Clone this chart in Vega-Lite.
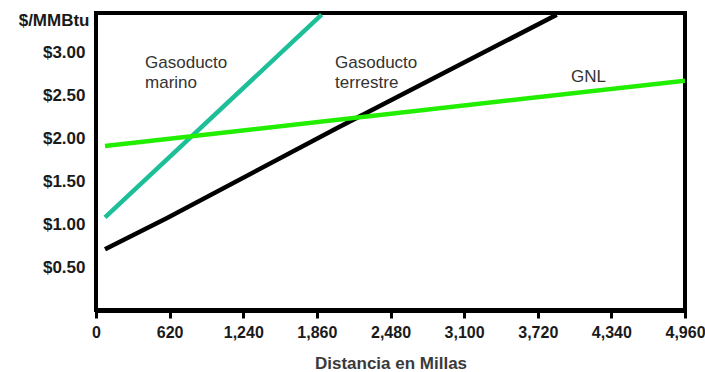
{
  "$schema": "https://vega.github.io/schema/vega-lite/v6.json",
  "width": 589,
  "height": 297,
  "autosize": "none",
  "padding": {"left": 96, "top": 13, "right": 20, "bottom": 62},
  "background": "white",
  "config": {
    "view": {"stroke": "black", "strokeWidth": 4},
    "font": "Liberation Sans"
  },
  "encoding": {
    "x": {
      "field": "millas",
      "type": "quantitative",
      "scale": {"domain": [0, 4960], "nice": false, "zero": false},
      "axis": {
        "values": [0, 620, 1240, 1860, 2480, 3100, 3720, 4340, 4960],
        "format": ",d",
        "grid": false,
        "domain": true,
        "domainColor": "black",
        "domainWidth": 5,
        "ticks": true,
        "tickSize": 8,
        "tickWidth": 3,
        "tickColor": "black",
        "labelFont": "Liberation Sans",
        "labelFontSize": 16,
        "labelFontWeight": "bold",
        "labelColor": "#1a1a1a",
        "labelPadding": 6,
        "labelFlush": false,
        "labelOverlap": false,
        "title": "Distancia en Millas",
        "titleFont": "Liberation Sans",
        "titleFontSize": 17,
        "titleFontWeight": "bold",
        "titleColor": "#3a3a3a",
        "titleBaseline": "alphabetic",
        "titleY": 58
      }
    },
    "y": {
      "field": "precio",
      "type": "quantitative",
      "scale": {"domain": [0, 3.46], "nice": false, "zero": false},
      "axis": {
        "values": [0.5, 1, 1.5, 2, 2.5, 3],
        "format": "$.2f",
        "grid": false,
        "domain": false,
        "ticks": false,
        "labelFont": "Liberation Sans",
        "labelFontSize": 17,
        "labelFontWeight": "bold",
        "labelColor": "#1a1a1a",
        "labelPadding": 11,
        "title": "$/MMBtu",
        "titleAngle": 0,
        "titleAlign": "right",
        "titleBaseline": "middle",
        "titleX": -7,
        "titleY": 7,
        "titleFont": "Liberation Sans",
        "titleFontSize": 17,
        "titleFontWeight": "bold",
        "titleColor": "#1a1a1a"
      }
    }
  },
  "layer": [
    {
      "data": {
        "values": [
          {"serie": "marino", "millas": 75.8, "precio": 1.08},
          {"serie": "marino", "millas": 1900, "precio": 3.44},
          {"serie": "terrestre", "millas": 75.8, "precio": 0.707},
          {"serie": "terrestre", "millas": 595, "precio": 1.069},
          {"serie": "terrestre", "millas": 2027, "precio": 2.118},
          {"serie": "terrestre", "millas": 3880, "precio": 3.44},
          {"serie": "GNL", "millas": 75.8, "precio": 1.911},
          {"serie": "GNL", "millas": 4960, "precio": 2.672}
        ]
      },
      "mark": {"type": "line", "strokeWidth": 4.5, "clip": true},
      "encoding": {
        "color": {
          "field": "serie",
          "type": "nominal",
          "scale": {"domain": ["marino", "terrestre", "GNL"], "range": ["#1cbf97", "#000000", "#22ee00"]},
          "legend": null
        },
        "order": {"field": "millas", "type": "quantitative"}
      }
    },
    {
      "data": {
        "values": [
          {"millas": 413, "precio": 2.82, "texto": "Gasoducto"},
          {"millas": 413, "precio": 2.587, "texto": "marino"},
          {"millas": 2013, "precio": 2.82, "texto": "Gasoducto"},
          {"millas": 2013, "precio": 2.587, "texto": "terrestre"},
          {"millas": 4000, "precio": 2.657, "texto": "GNL"}
        ]
      },
      "mark": {
        "type": "text",
        "align": "left",
        "baseline": "alphabetic",
        "font": "Liberation Sans",
        "fontSize": 17,
        "color": "#333333"
      },
      "encoding": {
        "text": {"field": "texto", "type": "nominal"}
      }
    }
  ]
}
